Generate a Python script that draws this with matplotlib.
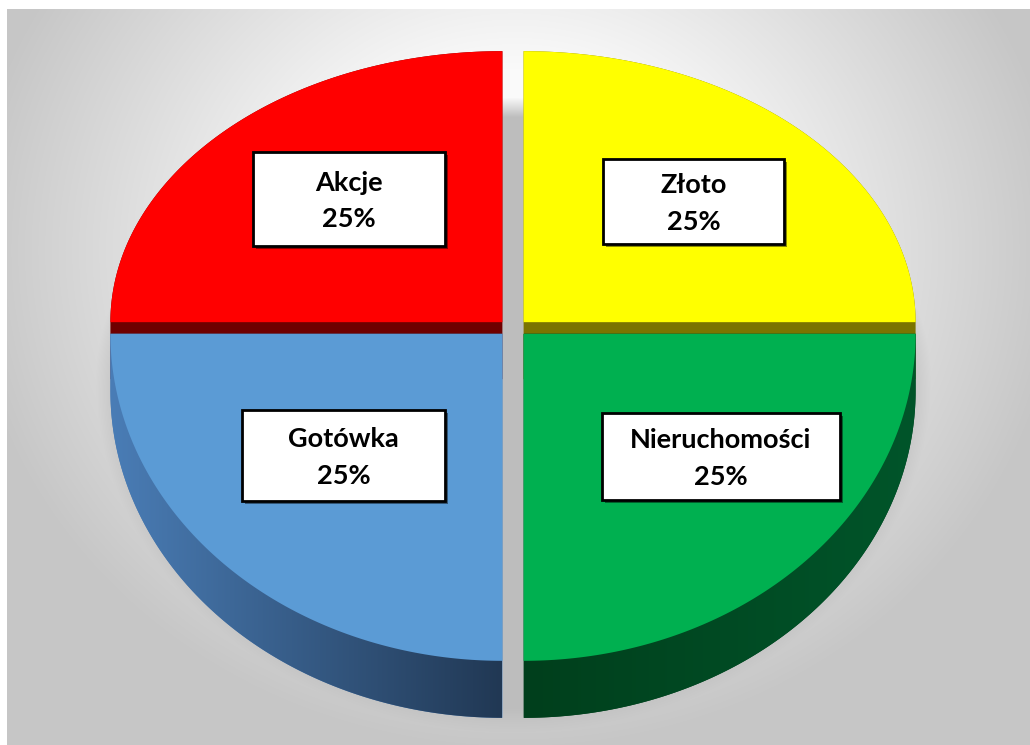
import numpy as np
import matplotlib.pyplot as plt
from matplotlib.patches import Polygon, Rectangle

# data: four equal slices, counter-clockwise from 12 o'clock
labels = ['Akcje', 'Gotówka', 'Nieruchomości', 'Złoto']
shares = [25, 25, 25, 25]
top_colors = ['#ff0000', '#5b9bd5', '#00b050', '#ffff00']
side_left = ['#6e0000', '#4a7db6', '#003f1c', '#7a7400']
side_right = ['#6e0000', '#213854', '#00552a', '#7a7400']

W, H = 1030, 745
cx, cy = 513, 328
rx = 392
ry_up, ry_down = 271, 327
depth = 57
explode = 15

# label boxes (x0, y0, w, h) in pixels
boxes = {
    'Akcje': (253, 152, 192, 94),
    'Gotówka': (242, 410, 203, 91),
    'Nieruchomości': (602, 413, 238, 87),
    'Złoto': (603, 159, 181, 85),
}


def face(t0, t1, ox, oy, dy=0, n=120):
    t = np.radians(np.linspace(t0, t1, n))
    ry = np.where(np.sin(t) >= 0, ry_up, ry_down)
    xs = ox + rx * np.cos(t)
    ys = oy - ry * np.sin(t) + dy
    pts = np.column_stack([xs, ys])
    return np.vstack([[ox, oy + dy], pts])


def hull(p):
    p = sorted(map(tuple, p))
    def cross(o, a, b):
        return (a[0] - o[0]) * (b[1] - o[1]) - (a[1] - o[1]) * (b[0] - o[0])
    lo, up = [], []
    for q in p:
        while len(lo) >= 2 and cross(lo[-2], lo[-1], q) <= 0:
            lo.pop()
        lo.append(q)
    for q in reversed(p):
        while len(up) >= 2 and cross(up[-2], up[-1], q) <= 0:
            up.pop()
        up.append(q)
    return np.array(lo[:-1] + up[:-1])


# background with soft shadow behind the pie
yy, xx = np.mgrid[0:H, 0:W].astype(float)
d = np.hypot(xx - 515, (yy - 250) * 1.1)
bg = np.clip(250 - 0.148 * (d - 200), 198, 250)
sry = np.where(yy < 380, 283, 352)
r = np.sqrt(((xx - 513) / 418) ** 2 + ((yy - 380) / sry) ** 2)
shade = np.clip((1.0 - r) / 0.07, 0, 1)
bg = bg + (189 - bg) * shade
bg[:9, :] = 255
bg[:, :7] = 255
img = np.dstack([bg, bg, bg]) / 255.0

fig = plt.figure(figsize=(10.3, 7.45), dpi=100)
ax = fig.add_axes([0, 0, 1, 1])
ax.imshow(img, extent=(0, W, H, 0), aspect='auto', zorder=0)
ax.set_xlim(0, W)
ax.set_ylim(H, 0)
ax.axis('off')

# wedge angles from the shares
ends = 90 + np.cumsum(shares) / sum(shares) * 360
starts = ends - np.array(shares) / sum(shares) * 360
wedges = []
for i, lab in enumerate(labels):
    mid = np.radians((starts[i] + ends[i]) / 2)
    ox = cx + explode * np.cos(mid)
    oy = cy - explode * 0.55 * np.sin(mid)
    wedges.append((i, lab, starts[i], ends[i], ox, oy, np.sin(mid) > 0))

# back (upper) wedges first, then front ones
order = [w for w in wedges if w[6]] + [w for w in wedges if not w[6]]
for i, lab, t0, t1, ox, oy, back in order:
    top = face(t0, t1, ox, oy)
    low = face(t0, t1, ox, oy, dy=depth)
    side = hull(np.vstack([top, low]))
    sp = Polygon(side, closed=True, facecolor=side_left[i], edgecolor='none', zorder=2)
    ax.add_patch(sp)
    if side_left[i] != side_right[i]:
        x0, x1 = side[:, 0].min(), side[:, 0].max()
        y0, y1 = side[:, 1].min(), side[:, 1].max()
        c0 = np.array(plt.matplotlib.colors.to_rgb(side_left[i]))
        c1 = np.array(plt.matplotlib.colors.to_rgb(side_right[i]))
        f = np.linspace(0, 1, 256)[None, :, None]
        grad = c0 + (c1 - c0) * f
        gi = ax.imshow(np.repeat(grad, 2, axis=0), extent=(x0, x1, y1, y0),
                       aspect='auto', zorder=2.1)
        gi.set_clip_path(sp)
    ax.add_patch(Polygon(top, closed=True, facecolor=top_colors[i],
                         edgecolor='none', zorder=3))

# label boxes
for i, lab in enumerate(labels):
    bx, by, bw, bh = boxes[lab]
    ax.add_patch(Rectangle((bx + 3, by + 3), bw, bh, facecolor='black',
                           alpha=0.45, edgecolor='none', zorder=4))
    ax.add_patch(Rectangle((bx, by), bw, bh, facecolor='white',
                           edgecolor='black', linewidth=2.0, zorder=5))
    ax.text(bx + bw / 2, by + bh / 2 + 2, f'{lab}\n{shares[i]}%', ha='center',
            va='center', fontsize=19.5, fontweight='bold', family='Lato',
            color='black', linespacing=1.62, zorder=6)

fig.savefig('out.png', dpi=100)
